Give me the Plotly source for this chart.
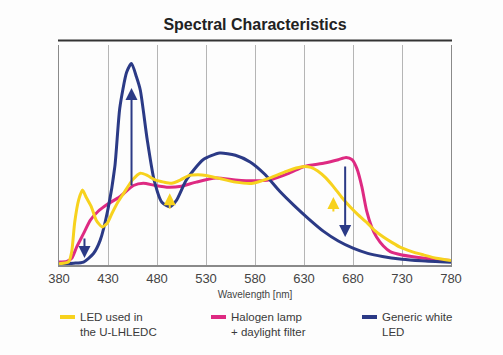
import plotly.graph_objects as go

# ---- data (relative intensity) ----
led_wl = [380, 390, 393, 396, 400, 404, 408, 413, 418, 424, 429, 434, 440, 446, 455, 463, 470, 478, 487, 495, 504, 513, 522, 530, 545, 560, 578, 595, 612, 622, 630, 637, 644, 652, 660, 668, 677, 685, 694, 702, 711, 720, 728, 740, 752, 765, 780]
led_val = [0.5, 1.5, 6, 19, 29, 33.5, 30, 26, 20, 17, 18.5, 23, 28, 32, 38, 41, 40, 38, 37, 36.5, 38, 40, 40.3, 40, 38.5, 37, 36.5, 38.8, 41.8, 43.3, 44, 43.6, 42, 39, 35, 30.5, 26, 22.5, 19, 15.5, 12.5, 10, 8, 6, 4.5, 3, 2]

halogen_wl = [380, 388, 393, 398, 405, 412, 420, 429, 442, 456, 466, 478, 492, 505, 520, 540, 560, 578, 595, 615, 630, 651, 665, 673, 679, 684, 689, 694, 699, 704, 711, 718, 730, 745, 760, 780]
halogen_val = [1.3, 1.6, 3, 8, 14, 20, 24, 27, 30.5, 35.5, 36.5, 35.5, 34.7, 35.2, 37, 38.8, 38, 37.6, 38, 41, 44, 45.5, 47, 48, 47, 43, 35, 24, 17, 12.5, 8.5, 6, 4.5, 3.5, 2.7, 2]

white_wl = [380, 395, 405, 415, 422, 430, 437, 442, 449, 454, 459, 463, 470, 477, 485, 493, 500, 510, 527, 544, 560, 575, 590, 605, 620, 635, 650, 665, 680, 695, 710, 730, 750, 780]
white_val = [0.5, 0.8, 1.3, 5, 11, 25, 44, 70, 86, 90, 84, 78, 56, 38, 28, 26, 29, 38, 47, 50, 49, 46, 40.5, 33, 26.5, 20.5, 15, 10.7, 7.5, 5.2, 3.8, 2.6, 1.9, 1.2]

# arrows: wavelength, from value, to value, series
arrow_wl = [406, 454, 493, 660, 672]
arrow_from = [12.5, 34.8, 24.6, 23.2, 44.6]
arrow_to = [3.1, 79, 32, 30.4, 12.5]
arrow_series = ["white", "white", "led", "led", "white"]

tick_vals = [380, 430, 480, 530, 580, 630, 680, 730, 780]
tick_text = ["380", "430", "480", "530", "580", "630", "680", "730", "780"]

legend_names = ["LED used in<br>the U-LHLEDC", "Halogen lamp<br>+ daylight filter", "Generic white<br>LED"]

YELLOW = "#F7D21E"
MAGENTA = "#DE2A82"
BLUE = "#2B3A86"
colors = {"led": YELLOW, "halogen": MAGENTA, "white": BLUE}

fig = go.Figure()
fig.add_trace(go.Scatter(x=halogen_wl, y=halogen_val, mode="lines",
                         line=dict(color=MAGENTA, width=3, shape="spline", smoothing=0.6),
                         showlegend=False, hoverinfo="skip"))
fig.add_trace(go.Scatter(x=white_wl, y=white_val, mode="lines",
                         line=dict(color=BLUE, width=3, shape="spline", smoothing=0.6),
                         showlegend=False, hoverinfo="skip"))
fig.add_trace(go.Scatter(x=led_wl, y=led_val, mode="lines",
                         line=dict(color=YELLOW, width=3, shape="spline", smoothing=0.6),
                         showlegend=False, hoverinfo="skip"))

annotations = []
for wl, a, b, s in zip(arrow_wl, arrow_from, arrow_to, arrow_series):
    annotations.append(dict(x=wl, y=b, ax=wl, ay=a, xref="x", yref="y", axref="x", ayref="y",
                            text="", showarrow=True, arrowhead=2, arrowsize=1.2,
                            arrowwidth=2, arrowcolor=colors[s]))

# manual legend (symbol + two-line text)
W, H = 503, 355
L, R, T, B = 59, 52, 45, 90
pw = W - L - R
ph = H - T - B
def px_x(p):
    return (p - L) / pw
def px_y(p):
    return (H - B - p) / ph

shapes = []
leg_x = [60, 211, 362]
leg_cols = [YELLOW, MAGENTA, BLUE]
for lx, col, name in zip(leg_x, leg_cols, legend_names):
    shapes.append(dict(type="line", xref="paper", yref="paper",
                       x0=px_x(lx), x1=px_x(lx + 15), y0=px_y(317), y1=px_y(317),
                       line=dict(color=col, width=4)))
    annotations.append(dict(x=px_x(lx + 17.5), y=px_y(309), xref="paper", yref="paper",
                            xanchor="left", yanchor="top", align="left", showarrow=False,
                            text=name, font=dict(family="Liberation Sans, Arial", size=11.5, color="#3a3a3a")))

# heading rule above the plot
shapes.append(dict(type="line", xref="paper", yref="paper", x0=px_x(58), x1=px_x(452),
                   y0=px_y(40.5), y1=px_y(40.5), line=dict(color="#333333", width=2)))

fig.update_layout(
    width=W, height=H,
    margin=dict(l=L, r=R, t=T, b=B),
    paper_bgcolor="#fdfdfd", plot_bgcolor="#fdfdfd",
    title=dict(text="<b>Spectral Characteristics</b>", x=0.5, xref="paper", xanchor="center",
               y=1 - 24 / H, yanchor="middle",
               font=dict(family="Liberation Sans, Arial", size=16, color="#222222")),
    xaxis=dict(range=[380, 780], tickvals=tick_vals, ticktext=tick_text,
               showgrid=True, gridcolor="#b5b5b5", gridwidth=1,
               showline=True, linecolor="#8a8a8a", linewidth=2, mirror=False,
               ticks="", zeroline=False, fixedrange=True,
               tickfont=dict(family="Liberation Sans, Arial", size=13, color="#444444"),
               title=dict(text="Wavelength [nm]", standoff=6,
                          font=dict(family="Liberation Sans, Arial", size=10, color="#444444"))),
    yaxis=dict(range=[0, ph / 224 * 100], showgrid=False, showticklabels=False, ticks="",
               zeroline=False, showline=True, linecolor="#8a8a8a", linewidth=1, mirror=True,
               fixedrange=True),
    shapes=shapes,
    annotations=annotations,
)

fig.write_html("out.html", config={"displayModeBar": False},
               post_script="document.body.style.margin='0';")
